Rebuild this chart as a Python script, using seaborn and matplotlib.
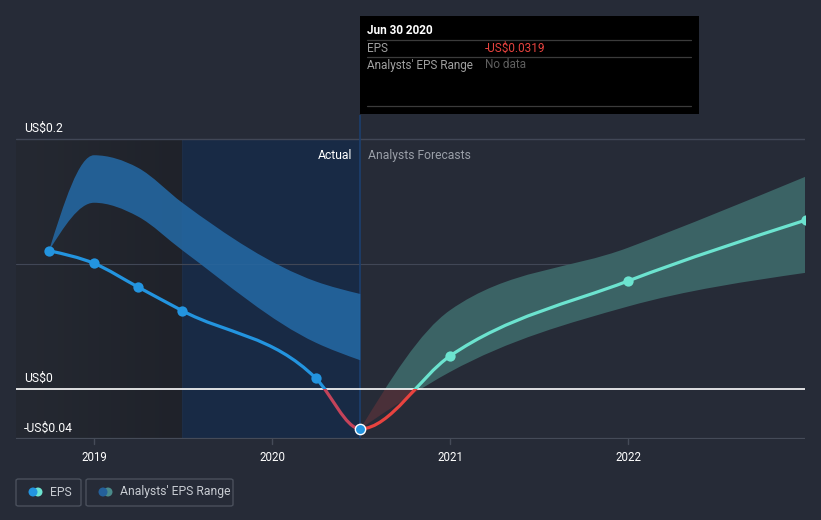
import numpy as np
import matplotlib
matplotlib.use("Agg")
import matplotlib.pyplot as plt
import seaborn as sns
import pandas as pd
from matplotlib.path import Path
from matplotlib.patches import PathPatch, Rectangle, FancyBboxPatch, Ellipse
from matplotlib.colors import LinearSegmentedColormap

# -------------------
# Data (decimal years, EPS in US$)
# -------------------
actual_dates = [2018.747, 2019.0, 2019.247, 2019.496, 2020.247, 2020.496]
actual_eps = [0.1106, 0.1005, 0.0816, 0.0626, 0.0085, -0.0319]
actual_range_high = [0.1106, 0.187, 0.177, 0.149, 0.086, 0.076]
actual_range_low = [0.1106, 0.149, 0.138, 0.111, 0.037, 0.023]

forecast_dates = [2020.496, 2021.0, 2022.0, 2023.0]
forecast_eps = [-0.0319, 0.0264, 0.0864, 0.1352]
forecast_high = [-0.0319, 0.063, 0.113, 0.170]
forecast_low = [-0.0319, 0.0136, 0.066, 0.093]

year_ticks = [2019, 2020, 2021, 2022]
y_labels = {0.2: "US$0.2", 0.0: "US$0", -0.04: "-US$0.04"}

BG = "#262b37"
BLUE = "#2394df"
TEAL = "#6ce3cf"
RED = "#e8433f"


def monotone_verts(x, y):
    # monotone cubic (like d3 curveMonotoneX) as bezier control points
    x = np.asarray(x, float)
    y = np.asarray(y, float)
    n = len(x)
    h = np.diff(x)
    s = np.diff(y) / h
    m = np.zeros(n)
    for i in range(1, n - 1):
        if s[i - 1] * s[i] <= 0:
            m[i] = 0.0
        else:
            p = (s[i - 1] * h[i] + s[i] * h[i - 1]) / (h[i - 1] + h[i])
            m[i] = (np.sign(s[i - 1]) + np.sign(s[i])) * min(abs(s[i - 1]), abs(s[i]), 0.5 * abs(p))
    m[0] = (3 * s[0] - m[1]) / 2
    m[-1] = (3 * s[-1] - m[-2]) / 2
    verts = [(x[0], y[0])]
    for i in range(n - 1):
        d = h[i] / 3
        verts += [(x[i] + d, y[i] + m[i] * d), (x[i + 1] - d, y[i + 1] - m[i + 1] * d), (x[i + 1], y[i + 1])]
    return verts


def line_path(x, y):
    v = monotone_verts(x, y)
    codes = [Path.MOVETO] + [Path.CURVE4] * (len(v) - 1)
    return Path(v, codes)


def band_path(x, lo, hi):
    up = monotone_verts(x, hi)
    dn = monotone_verts(x, lo)[::-1]
    v = up + dn + [up[0]]
    codes = ([Path.MOVETO] + [Path.CURVE4] * (len(up) - 1)
             + [Path.LINETO] + [Path.CURVE4] * (len(dn) - 1) + [Path.CLOSEPOLY])
    return Path(v, codes)


sns.set_style("dark")
plt.rcParams["font.family"] = ["Roboto", "DejaVu Sans"]

fig = plt.figure(figsize=(8.21, 5.2), dpi=100, facecolor=BG)
W, H = 821, 520
ax = fig.add_axes([16 / W, (H - 439) / H, (805 - 16) / W, (439 - 115) / H])
ax.set_facecolor(BG)
x0 = 2019 - 78 / 178
x1 = 2019 + 711 / 178
y0, y1 = -0.04, 0.2 + 24 / 1250
ax.set_xlim(x0, x1)
ax.set_ylim(y0, y1)
for sp in ax.spines.values():
    sp.set_visible(False)
ax.set_xticks([])
ax.set_yticks([])


def clipped_patch(path, clip_xy, clip_w, clip_h, **kw):
    pp = PathPatch(path, **kw)
    ax.add_patch(pp)
    # set clip after adding, otherwise the axes clip replaces it
    pp.set_clip_path(Rectangle(clip_xy, clip_w, clip_h, transform=ax.transData))
    return pp


# background shading: past year (dark) and last year of actuals (navy)
grad = np.linspace(0, 1, 200).reshape(1, -1)
dark_cmap = LinearSegmentedColormap.from_list("d", ["#252932", "#1f222a"])
ax.imshow(grad, extent=[x0, 2019.496, y0, 0.2], aspect="auto", cmap=dark_cmap, zorder=0)
ax.axvspan(2019.496, 2020.496, ymin=0, ymax=(0.2 - y0) / (y1 - y0), color="#182a45", lw=0, zorder=0.5)
ax.axvline(2019.496, ymax=(0.2 - y0) / (y1 - y0), color="#1d2d46", lw=0.8, zorder=0.6)

# gridlines
ax.axhline(0.2, color="#414756", lw=1, zorder=1)
ax.axhline(0.1, color="#414756", lw=0.8, zorder=1)
ax.axhline(-0.04, color="#454b58", lw=1.6, zorder=1)
ax.axvline(2020.496, color="#1c3f6e", lw=1.2, zorder=1)

# analysts' range bands
ax.add_patch(PathPatch(band_path(actual_dates, actual_range_low, actual_range_high),
                       facecolor="#2468a3", edgecolor="none", alpha=0.88, zorder=2))
fpath = band_path(forecast_dates, forecast_low, forecast_high)
clipped_patch(fpath, (x0, 0), x1 - x0, 1, facecolor="#3b6365", edgecolor="none", zorder=2)
clipped_patch(fpath, (x0, -1), x1 - x0, 1, facecolor="#4a3039", edgecolor="none", zorder=2)

ax.axhline(0.0, color="white", lw=1.2, zorder=3)

# EPS line, coloured by period and sign
all_dates = actual_dates + forecast_dates[1:]
all_eps = actual_eps + forecast_eps[1:]
lp = line_path(all_dates, all_eps)
xm = actual_dates[-1]
segments = [
    ((x0, 0), xm - x0, BLUE),
    ((x0, -1), xm - x0, "#c4435a"),
    ((xm, -1), x1 - xm, RED),
    ((xm, 0), x1 - xm, TEAL),
]
for xy, w, col in segments:
    clipped_patch(lp, xy, w, 1, facecolor="none", edgecolor=col, lw=2.3, zorder=4, capstyle="butt")

act_df = pd.DataFrame({"date": actual_dates[:-1], "eps": actual_eps[:-1]})
sns.scatterplot(data=act_df, x="date", y="eps", color=BLUE, s=55, linewidth=0, ax=ax, zorder=5)
fc_df = pd.DataFrame({"date": forecast_dates[1:], "eps": forecast_eps[1:]})
sns.scatterplot(data=fc_df, x="date", y="eps", color=TEAL, s=55, linewidth=0, ax=ax, zorder=5)
ax.scatter([actual_dates[-1]], [actual_eps[-1]], s=55, color=BLUE, edgecolor="white", linewidth=1, zorder=6)
ax.set_xlabel("")
ax.set_ylabel("")

# tick marks and labels
for yr in year_ticks:
    ax.plot([yr, yr], [y0, y0 - 0.004], color="#454b58", lw=1, clip_on=False)
    ax.text(yr, y0 - 0.0095, str(yr), ha="center", va="top", color="white", fontsize=8.3, clip_on=False)
for v, lab in y_labels.items():
    ax.text(x0 + 8 / 178, v + 0.0035, lab, ha="left", va="bottom", color="white", fontsize=8.7)

ax.text(2020.496 - 8 / 178, 0.187, "Actual", ha="right", va="center", color="white", fontsize=8.7)
ax.text(2020.496 + 8 / 178, 0.187, "Analysts Forecasts", ha="left", va="center", color="#9a9fa8", fontsize=8.7)

# tooltip box
fig.patches.append(Rectangle((360 / W, (H - 114) / H), 339 / W, 98 / H, transform=fig.transFigure,
                             facecolor="black", edgecolor="none", zorder=10))
for yy in [40, 57, 106]:
    fig.lines.append(plt.Line2D([367 / W, 691 / W], [(H - yy) / H] * 2, transform=fig.transFigure,
                                color="#3b3b3b", lw=0.9, zorder=11))
fig.text(367 / W, (H - 31) / H, "Jun 30 2020", color="white", fontsize=8.5, fontweight="bold", va="center", zorder=12)
fig.text(367 / W, (H - 48) / H, "EPS", color="#a0a0a0", fontsize=8.5, va="center", zorder=12)
fig.text(485 / W, (H - 48) / H, "-US$0.0319", color="#e8433f", fontsize=8.5, va="center", zorder=12)
fig.text(367 / W, (H - 65) / H, "Analysts' EPS Range", color="#a0a0a0", fontsize=8.5, va="center", zorder=12)
fig.text(485 / W, (H - 65) / H, "No data", color="#5e5e5e", fontsize=8.5, va="center", zorder=12)

# legend
for bx0, bx1, dots, label, tx in [(16, 81, ["#2394df", "#6ce3cf"], "EPS", 50),
                                  (86, 233, ["#24609a", "#4a8a8a"], "Analysts' EPS Range", 120)]:
    fig.patches.append(FancyBboxPatch((bx0 / W, (H - 506) / H), (bx1 - bx0) / W, 27 / H,
                                      boxstyle="round,pad=0,rounding_size=0.003", transform=fig.transFigure,
                                      facecolor="none", edgecolor="#4a505c", lw=1))
    # right dot first, left dot drawn on top
    for cx, c in [(bx0 + 22, dots[1]), (bx0 + 17, dots[0])]:
        fig.patches.append(Ellipse((cx / W, (H - 492) / H), 9 / W, 9 / H,
                                   transform=fig.transFigure, facecolor=c, edgecolor="none"))
    fig.text(tx / W, (H - 492) / H, label, color="#c8ccd2", fontsize=8.7, va="center")

fig.savefig("out.png", dpi=100, facecolor=BG)
